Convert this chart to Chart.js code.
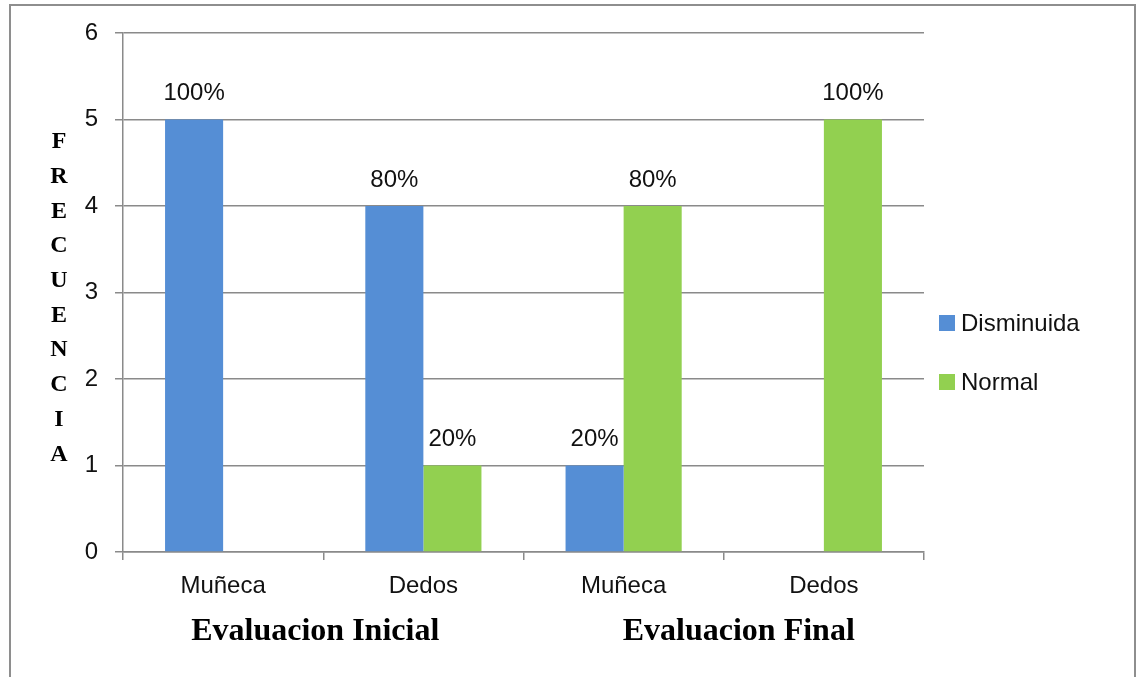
<!DOCTYPE html>
<html>
<head>
<meta charset="utf-8">
<script src="https://cdn.jsdelivr.net/npm/chart.js@4.4.1/dist/chart.umd.min.js"></script>
<style>
  html, body { margin: 0; padding: 0; background: #fff; overflow: hidden; }
  #wrap { position: relative; width: 1137px; height: 677px; }
  #frame {
    position: absolute; left: 9px; top: 4px; width: 1127px; height: 720px;
    border: 2px solid #8e8e8e; border-bottom: none; box-sizing: border-box;
  }
  canvas { position: absolute; left: 0; top: 0; }
</style>
</head>
<body>
<div id="wrap">
  <div id="frame"></div>
  <canvas id="chart" width="1137" height="677"></canvas>
</div>
<script>
// Frequencies per evaluation stage and body region
const categories = ['Muñeca', 'Dedos', 'Muñeca', 'Dedos'];
const seriesNames = ['Disminuida', 'Normal'];
const disminuida = [5, 4, 1, 0];
const normal = [0, 1, 4, 5];
const participants = 5;
const yTicks = [0, 1, 2, 3, 4, 5, 6];
const groupLabels = ['Evaluacion Inicial', 'Evaluacion Final'];
const groupSpans = [[0, 1], [2, 3]];
const yTitle = 'FRECUENCIA';

const BLUE = '#558ED5';
const GREEN = '#92D050';
const GRID = '#8a8a8a';
const TEXT = '#111111';
const SANS = '"Liberation Sans", Arial, sans-serif';
const SERIF = '"Liberation Serif", "Times New Roman", serif';
const tickFont = { family: SANS, size: 24 };

// Percentage labels above each non-empty bar
const valueLabels = {
  id: 'valueLabels',
  afterDatasetsDraw(chart) {
    const ctx = chart.ctx;
    ctx.save();
    ctx.font = `24px ${SANS}`;
    ctx.fillStyle = TEXT;
    ctx.textAlign = 'center';
    ctx.textBaseline = 'middle';
    chart.data.datasets.forEach((ds, di) => {
      chart.getDatasetMeta(di).data.forEach((bar, i) => {
        const v = ds.data[i];
        if (!v) return;
        const pct = Math.round(v / participants * 100) + '%';
        ctx.fillText(pct, bar.x, bar.y - 26);
      });
    });
    ctx.restore();
  }
};

// Stacked vertical axis title, group captions and legend
const decorations = {
  id: 'decorations',
  afterDraw(chart) {
    const ctx = chart.ctx;
    const area = chart.chartArea;
    const xs = chart.scales.x;
    ctx.save();

    // vertical letter-by-letter axis title
    ctx.font = `bold 24px ${SERIF}`;
    ctx.fillStyle = '#000';
    ctx.textAlign = 'center';
    ctx.textBaseline = 'middle';
    const letters = yTitle.split('');
    const step = 34.7;
    letters.forEach((ch, i) => ctx.fillText(ch, 59, 142 + i * step));

    // group captions under the category labels
    const nudges = [-8, 15];
    ctx.font = `bold 32px ${SERIF}`;
    groupLabels.forEach((g, i) => {
      const [a, b] = groupSpans[i];
      const cx = (xs.getPixelForValue(a) + xs.getPixelForValue(b)) / 2 + nudges[i];
      ctx.fillText(g, cx, 632);
    });

    // legend on the right
    const colors = [BLUE, GREEN];
    ctx.font = `24px ${SANS}`;
    ctx.textAlign = 'left';
    seriesNames.forEach((name, i) => {
      const cy = 323 + i * 59;
      ctx.fillStyle = colors[i];
      ctx.fillRect(area.right + 15, cy - 8, 16, 16);
      ctx.fillStyle = TEXT;
      ctx.fillText(name, area.right + 37, cy + 1);
    });
    ctx.restore();
  }
};

new Chart(document.getElementById('chart'), {
  type: 'bar',
  data: {
    labels: categories,
    datasets: [
      { label: seriesNames[0], data: disminuida, backgroundColor: BLUE, categoryPercentage: 0.58, barPercentage: 1.0 },
      { label: seriesNames[1], data: normal, backgroundColor: GREEN, categoryPercentage: 0.58, barPercentage: 1.0 }
    ]
  },
  options: {
    responsive: false,
    animation: false,
    devicePixelRatio: 1,
    layout: { padding: { top: 33, right: 213, left: 0, bottom: 0 } },
    plugins: { legend: { display: false }, tooltip: { enabled: false } },
    scales: {
      x: {
        offset: true,
        grid: { display: true, drawOnChartArea: false, offset: true, tickLength: 8, color: GRID, lineWidth: 1.5 },
        border: { color: GRID, width: 1.5 },
        ticks: { font: tickFont, color: TEXT, padding: 12, maxRotation: 0 },
        afterFit(scale) { scale.height = 125; }
      },
      y: {
        min: 0,
        max: 6,
        afterBuildTicks(scale) { scale.ticks = yTicks.map(v => ({ value: v })); },
        ticks: { font: tickFont, color: TEXT, padding: 17 },
        grid: { color: GRID, lineWidth: 1.5, tickLength: 8 },
        border: { color: GRID, width: 1.5 },
        afterFit(scale) { scale.width = 123; }
      }
    }
  },
  plugins: [valueLabels, decorations]
});
</script>
</body>
</html>
